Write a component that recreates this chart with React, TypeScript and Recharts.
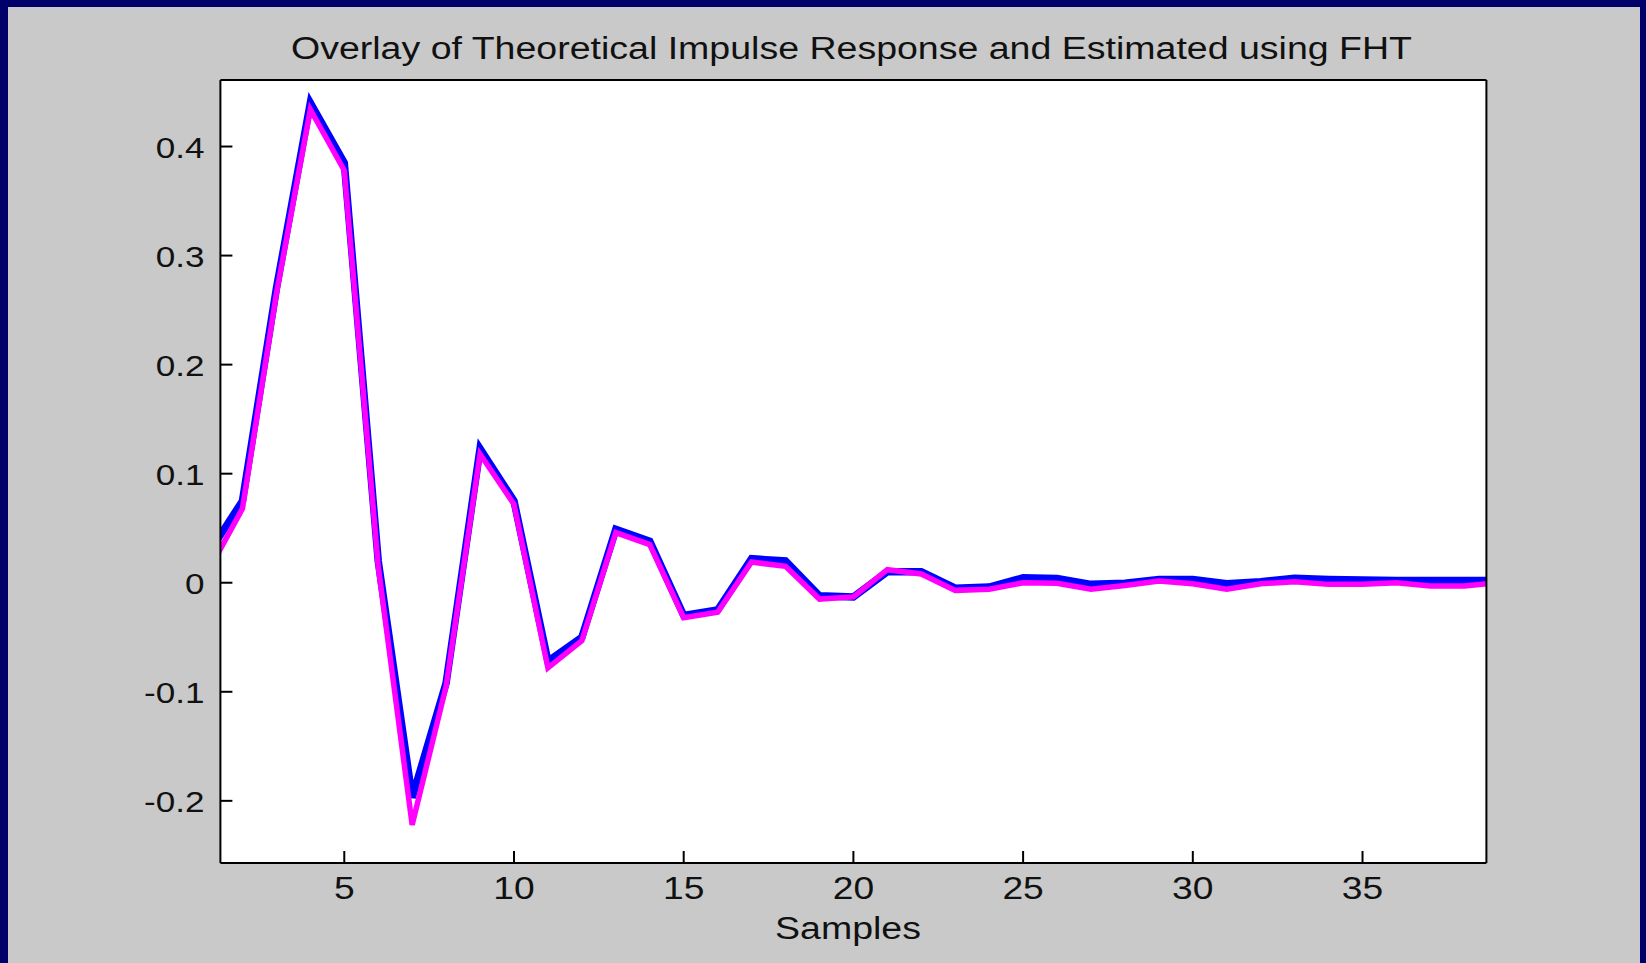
import React from "react";
import { LineChart, Line, XAxis, YAxis, CartesianGrid } from "recharts";

const samples = [1, 2, 3, 4, 5, 6, 7, 8, 9, 10, 11, 12, 13, 14, 15, 16, 17, 18, 19, 20, 21, 22, 23, 24, 25, 26, 27, 28, 29, 30, 31, 32, 33, 34, 35, 36, 37, 38, 39];

const theoretical = [
  0.027, 0.075, 0.27, 0.44, 0.385, 0.02, -0.197, -0.092, 0.123, 0.075,
  -0.072, -0.05, 0.049, 0.038, -0.03, -0.025, 0.022, 0.02, -0.012, -0.013,
  0.01, 0.01, -0.005, -0.004, 0.0045, 0.004, -0.0015, -0.0005, 0.003, 0.003,
  -0.001, 0.001, 0.004, 0.003, 0.0025, 0.002, 0.002, 0.002, 0.002,
];

const estimatedFHT = [
  0.011, 0.068, 0.265, 0.434, 0.378, 0.015, -0.222, -0.095, 0.118, 0.072,
  -0.078, -0.053, 0.046, 0.035, -0.032, -0.027, 0.019, 0.015, -0.015, -0.013,
  0.012, 0.008, -0.007, -0.006, 0.0, -0.0005, -0.006, -0.0025, 0.0015, -0.001,
  -0.006, -0.001, 0.001, -0.0015, -0.0015, 0.0, -0.003, -0.003, 0.0,
];

const xTicks = [5, 10, 15, 20, 25, 30, 35];
const yTicks = [-0.2, -0.1, 0, 0.1, 0.2, 0.3, 0.4];
const xTickLabels = ["5", "10", "15", "20", "25", "30", "35"];
const yTickLabels = ["-0.2", "-0.1", "0", "0.1", "0.2", "0.3", "0.4"];

const titleText = "Overlay of Theoretical Impulse Response and Estimated using FHT";
const xLabelText = "Samples";

const data = samples.map((n, i) => ({
  n,
  theoretical: theoretical[i],
  estimated: estimatedFHT[i],
}));

const FONT = '"Liberation Sans", Arial, Helvetica, sans-serif';
const TEXT_COLOR = "#111111";

const W = 1646;
const H = 963;
const PLOT_LEFT = 220.4;
const PLOT_RIGHT = 1486.4;
const PLOT_TOP = 80;
const PLOT_BOTTOM = 863;
const TICK_LEN = 12;

const YTick = (props: any) => {
  const { y, payload } = props;
  const idx = yTicks.indexOf(payload.value);
  const label = idx >= 0 ? yTickLabels[idx] : String(payload.value);
  return (
    <text
      x={0}
      y={0}
      transform={`translate(${PLOT_LEFT - 16},${y + 11}) scale(1.17,1)`}
      textAnchor="end"
      fontFamily={FONT}
      fontSize={30}
      fill={TEXT_COLOR}
    >
      {label}
    </text>
  );
};

const XTick = (props: any) => {
  const { x, payload } = props;
  const idx = xTicks.indexOf(payload.value);
  const label = idx >= 0 ? xTickLabels[idx] : String(payload.value);
  return (
    <text
      x={0}
      y={0}
      transform={`translate(${x},${PLOT_BOTTOM + 36}) scale(1.2,1)`}
      textAnchor="middle"
      fontFamily={FONT}
      fontSize={31}
      fill={TEXT_COLOR}
    >
      {label}
    </text>
  );
};

export default function App() {
  const axisLine = { stroke: "#000000", strokeWidth: 2 };
  const tickLine = { stroke: "#000000", strokeWidth: 2 };
  return (
    <div
      style={{
        position: "absolute",
        left: 0,
        top: 0,
        width: W,
        height: H,
        background: "#00006a",
        overflow: "hidden",
      }}
    >
      <div
        style={{
          position: "absolute",
          left: 8,
          top: 7,
          width: W - 8 - 6,
          height: H - 7,
          background: "#c9c9c9",
        }}
      />
      <div style={{ position: "absolute", left: 0, top: 0 }}>
        <LineChart
          width={W}
          height={H}
          data={data}
          margin={{
            top: PLOT_TOP,
            left: PLOT_LEFT,
            right: W - PLOT_RIGHT,
            bottom: H - PLOT_BOTTOM,
          }}
        >
          <CartesianGrid fill="#ffffff" horizontal={false} vertical={false} stroke="none" />
          <XAxis
            xAxisId="bottom"
            dataKey="n"
            type="number"
            domain={[1.35, 38.65]}
            allowDataOverflow
            ticks={xTicks}
            height={30}
            mirror
            orientation="bottom"
            axisLine={axisLine}
            tickLine={tickLine}
            tickSize={TICK_LEN}
            tickMargin={0}
            tick={<XTick />}
            interval={0}
          />
          <XAxis
            xAxisId="top"
            dataKey="n"
            type="number"
            domain={[1.35, 38.65]}
            allowDataOverflow
            ticks={xTicks}
            height={30}
            mirror
            orientation="top"
            axisLine={axisLine}
            tickLine={tickLine}
            tickSize={TICK_LEN}
            tick={false}
            interval={0}
          />
          <YAxis
            yAxisId="left"
            type="number"
            domain={[-0.257, 0.461]}
            allowDataOverflow
            ticks={yTicks}
            width={60}
            mirror
            orientation="left"
            axisLine={axisLine}
            tickLine={tickLine}
            tickSize={TICK_LEN}
            tickMargin={0}
            tick={<YTick />}
            interval={0}
          />
          <YAxis
            yAxisId="right"
            type="number"
            domain={[-0.257, 0.461]}
            allowDataOverflow
            ticks={yTicks}
            width={60}
            mirror
            orientation="right"
            axisLine={axisLine}
            tickLine={tickLine}
            tickSize={TICK_LEN}
            tick={false}
            interval={0}
          />
          <Line
            xAxisId="bottom"
            yAxisId="left"
            type="linear"
            dataKey="theoretical"
            stroke="#0000ff"
            strokeWidth={7.5}
            dot={false}
            activeDot={false}
            isAnimationActive={false}
          />
          <Line
            xAxisId="bottom"
            yAxisId="left"
            type="linear"
            dataKey="estimated"
            stroke="#ff00ff"
            strokeWidth={5.5}
            dot={false}
            activeDot={false}
            isAnimationActive={false}
          />
        </LineChart>
      </div>
      <svg
        width={W}
        height={H}
        style={{ position: "absolute", left: 0, top: 0, pointerEvents: "none" }}
      >
        <text
          x={291}
          y={59}
          fontFamily={FONT}
          fontSize={31}
          fill={TEXT_COLOR}
          textLength={1121}
          lengthAdjust="spacingAndGlyphs"
        >
          {titleText}
        </text>
        <text
          x={0}
          y={0}
          transform={`translate(848,939) scale(1.21,1)`}
          textAnchor="middle"
          fontFamily={FONT}
          fontSize={31}
          fill={TEXT_COLOR}
        >
          {xLabelText}
        </text>
      </svg>
    </div>
  );
}
